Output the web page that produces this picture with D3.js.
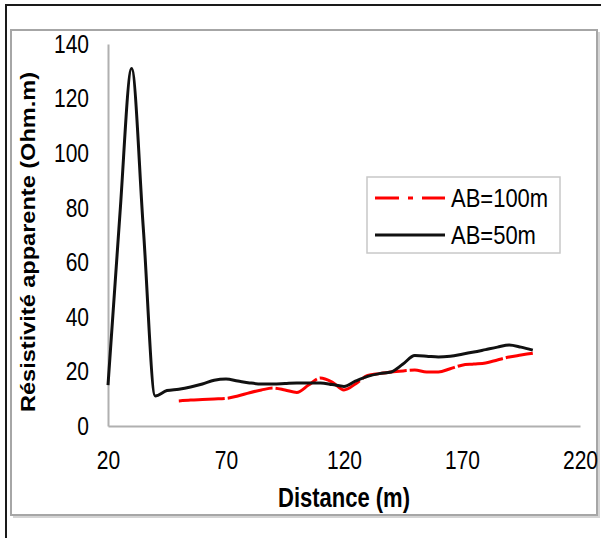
<!DOCTYPE html>
<html>
<head>
<meta charset="utf-8">
<script src="https://cdn.jsdelivr.net/npm/d3@7/dist/d3.min.js"></script>
<style>
  body { margin: 0; background: #fff; }
  svg { display: block; }
  text { font-family: "Liberation Sans", Arial, sans-serif; fill: #000; }
</style>
</head>
<body>
<svg id="chart" width="601" height="538"></svg>
<script>
// Apparent resistivity profiles along the line, two electrode spacings
const distanceAB50 = [20, 25, 30, 35, 40, 45, 50, 55, 60, 65, 70, 75, 80, 85, 90, 95, 100,
  105, 110, 115, 120, 125, 130, 135, 140, 145, 150, 155, 160, 165, 170, 175, 180, 185, 190, 195, 200];
const rhoAB50 = [15, 77, 131, 72, 11, 13, 13.5, 14.3, 15.4, 16.8, 17.2, 16.5, 15.8, 15.4, 15.4, 15.6, 15.8,
  15.8, 15.8, 15.2, 14.5, 16.5, 18.2, 19.2, 19.8, 22.7, 25.8, 25.6, 25.3, 25.6, 26.3, 27.1, 28, 28.9, 29.7, 28.9, 27.8];

const distanceAB100 = [50, 55, 60, 65, 70, 75, 80, 85, 90, 95, 100, 105, 110, 115, 120, 125,
  130, 135, 140, 145, 150, 155, 160, 165, 170, 175, 180, 185, 190, 195, 200];
const rhoAB100 = [9.2, 9.5, 9.7, 9.9, 10.1, 11, 12.2, 13.2, 13.9, 13.2, 12.3, 15, 17.6, 16.1, 13.2, 15.5,
  18.5, 19.2, 19.8, 20.2, 20.5, 19.8, 19.8, 21, 22.3, 22.7, 23.1, 24.2, 25.3, 26, 26.7];

const xTickValues = [20, 70, 120, 170, 220];
const yTickValues = [0, 20, 40, 60, 80, 100, 120, 140];
const seriesNames = ["AB=100m", "AB=50m"];
const xTitle = "Distance (m)";
const yTitle = "Résistivité apparente (Ohm.m)";

// the text in this figure is drawn slightly tall and narrow
const textStretch = 1.25;

const svg = d3.select("#chart");

// outer frame (top and left edges)
svg.append("path")
  .attr("d", "M6,538 V5 H601")
  .attr("fill", "none").attr("stroke", "#1a1a1a").attr("stroke-width", 2);

// chart panel with a soft shadow
svg.append("rect")
  .attr("x", 13).attr("y", 32).attr("width", 587).attr("height", 486)
  .attr("fill", "#d4d4d4");
svg.append("rect")
  .attr("x", 11).attr("y", 30).attr("width", 586).attr("height", 485)
  .attr("fill", "#fff").attr("stroke", "#a6a6a6").attr("stroke-width", 2);

const x = d3.scaleLinear().domain([20, 220]).range([108, 580]);
const y = d3.scaleLinear().domain([0, 140]).range([426, 44]);

// axes
const gx = svg.append("g").attr("transform", `translate(0,${y(0)})`)
  .call(d3.axisBottom(x).tickValues(xTickValues).tickSize(0).tickPadding(24));
const gy = svg.append("g").attr("transform", `translate(${x(20)},0)`)
  .call(d3.axisLeft(y).tickValues(yTickValues).tickSize(0).tickPadding(19));

[gx, gy].forEach(g => {
  g.select(".domain").attr("stroke", "#b0b0b0").attr("stroke-width", 2);
  g.selectAll(".tick text").each(function () {
    const t = d3.select(this);
    const tx = +t.attr("x") || 0, ty = +t.attr("y") || 0;
    t.attr("x", 0).attr("y", 0)
      .attr("transform", `translate(${tx},${ty}) scale(1,${textStretch})`)
      .style("font-size", "21px")
      .style("font-family", '"Liberation Sans", Arial, sans-serif')
      .attr("fill", "#000");
  });
});

// axis titles
svg.append("text")
  .attr("transform", `translate(${(x(20) + x(220)) / 2},497) scale(1,${textStretch})`)
  .attr("text-anchor", "middle").attr("dominant-baseline", "central")
  .style("font-size", "22px").style("font-weight", "bold")
  .text(xTitle);

svg.append("text")
  .attr("transform", "translate(28,242) rotate(-90)")
  .attr("text-anchor", "middle").attr("dominant-baseline", "central")
  .attr("textLength", 340).attr("lengthAdjust", "spacingAndGlyphs")
  .style("font-size", "20px").style("font-weight", "bold")
  .text(yTitle);

// series lines
const line = d3.line().x(d => x(d[0])).y(d => y(d[1])).curve(d3.curveMonotoneX);

svg.append("path")
  .datum(d3.zip(distanceAB100, rhoAB100))
  .attr("d", line)
  .attr("fill", "none").attr("stroke", "#ff0000").attr("stroke-width", 3)
  .attr("stroke-dasharray", "46,3")
  .attr("stroke-linejoin", "round");

svg.append("path")
  .datum(d3.zip(distanceAB50, rhoAB50))
  .attr("d", line)
  .attr("fill", "none").attr("stroke", "#111").attr("stroke-width", 3)
  .attr("stroke-linejoin", "round");

// legend
const legend = svg.append("g");
legend.append("rect")
  .attr("x", 367).attr("y", 177).attr("width", 193).attr("height", 76)
  .attr("fill", "#fff").attr("stroke", "#c8c8c8").attr("stroke-width", 1.5);

const legendItems = [
  { name: seriesNames[0], color: "#ff0000", dash: "24,9,5,9", yy: 198 },
  { name: seriesNames[1], color: "#111", dash: null, yy: 235 }
];
legendItems.forEach(it => {
  legend.append("line")
    .attr("x1", 375).attr("x2", 445).attr("y1", it.yy).attr("y2", it.yy)
    .attr("stroke", it.color).attr("stroke-width", 3)
    .attr("stroke-dasharray", it.dash);
  legend.append("text")
    .attr("transform", `translate(451,${it.yy}) scale(1,1.2)`)
    .attr("dominant-baseline", "central")
    .style("font-size", "22px")
    .text(it.name);
});
</script>
</body>
</html>
